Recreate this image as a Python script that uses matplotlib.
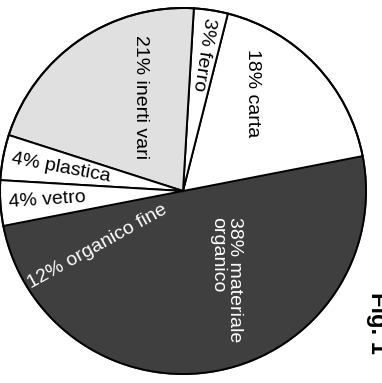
import numpy as np
import matplotlib.pyplot as plt
from matplotlib.patches import Circle

plt.rcParams['font.family'] = ['Liberation Sans', 'DejaVu Sans']

# dati (percentuali) in senso antiorario a partire da "carta"
categorie = ['carta', 'ferro', 'inerti vari', 'plastica', 'vetro', 'organico fine', 'materiale\norganico']
percentuali = [18, 3, 21, 4, 4, 12, 38]
colori = ['white', 'white', '#e0e0e0', 'white', 'white', '#3f3f3f', '#3f3f3f']

# posizione etichette: (x, y) in pixel dall'alto a sinistra con rotazione,
# oppure None = lungo la bisettrice della fetta alla distanza indicata
pos_etichette = [((253, 93), -90, 'black'),
                 (138, None, 'black'),
                 ((140, 97), -90, 'black'),
                 (124, None, 'black'),
                 (136, None, 'black'),
                 ((97, 247), 29, 'white'),
                 ((226, 280), -90, 'white')]

W, H = 382, 383
cx, cy, r = 183, H - 191, 183
fig = plt.figure(figsize=(W / 100, H / 100), dpi=100)
ax = fig.add_axes([0, 0, 1, 1])

wedges, _ = ax.pie(percentuali, colors=colori, startangle=11, counterclock=True,
                   center=(cx, cy), radius=r,
                   wedgeprops=dict(edgecolor='black', linewidth=1.4))
# le due fette scure non hanno linea di separazione
for w, c in zip(wedges, colori):
    if c == '#3f3f3f':
        w.set_edgecolor(c)
        w.set_zorder(0.5)
ax.add_patch(Circle((cx, cy), r, fill=False, edgecolor='black', linewidth=1.4))

# etichette: "NN% nome"
for w, cat, val, (p, rot, col) in zip(wedges, categorie, percentuali, pos_etichette):
    if rot is None:
        mid = (w.theta1 + w.theta2) / 2
        x = cx + p * np.cos(np.radians(mid))
        y = cy + p * np.sin(np.radians(mid))
        rot = mid - 180
    else:
        x, y = p[0], H - p[1]
    ax.text(x, y, f"{val}% {cat}", rotation=rot, color=col, fontsize=14,
            ha='center', va='center', multialignment='left',
            linespacing=0.95, rotation_mode='anchor')

# didascalia tagliata sul bordo destro
ax.text(366, H - 292, "Fig. 1", rotation=-90, fontsize=17, fontweight='bold',
        ha='left', va='top')

ax.set_xlim(0, W)
ax.set_ylim(0, H)
ax.set_aspect('equal')
ax.axis('off')

plt.savefig('out.png', dpi=100)
